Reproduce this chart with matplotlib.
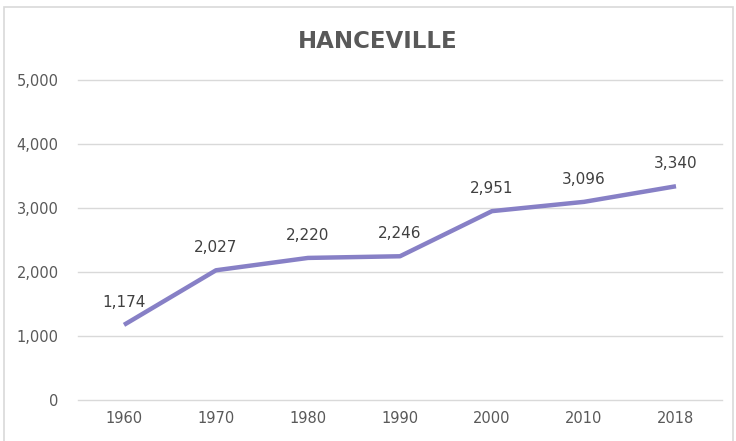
import matplotlib
matplotlib.use("Agg")
import matplotlib.pyplot as plt
from matplotlib.patches import Rectangle

years = ["1960", "1970", "1980", "1990", "2000", "2010", "2018"]
population = [1174, 2027, 2220, 2246, 2951, 3096, 3340]
y_ticks = [0, 1000, 2000, 3000, 4000, 5000]

W, H = 736, 441
fig = plt.figure(figsize=(W / 100, H / 100), dpi=100)
fig.patch.set_facecolor("white")

# light frame around the chart area
fig.patches.append(Rectangle((4 / W, -0.01), (733 - 4) / W, (H - 7) / H + 0.01,
                             transform=fig.transFigure, fill=False,
                             edgecolor="#d9d9d9", linewidth=1.2))

ax = fig.add_axes([78 / W, (H - 400) / H, 644 / W, 320 / H])
x = list(range(len(years)))
ax.plot(x, population, color="#8780c6", linewidth=3.2, solid_capstyle="butt",
        solid_joinstyle="round", zorder=3)

for xi, v in zip(x, population):
    ax.annotate(f"{v:,}", (xi, v), xytext=(0, 11), textcoords="offset points",
                ha="center", va="bottom", fontsize=11, color="#404040")

ax.set_xlim(-0.5, len(years) - 0.5)
ax.set_ylim(0, 5000)
ax.set_yticks(y_ticks)
ax.set_yticklabels([f"{t:,}" for t in y_ticks])
ax.set_xticks(x)
ax.set_xticklabels(years)
ax.grid(axis="y", color="#d9d9d9", linewidth=1)
for gl in ax.get_ygridlines():
    gl.set_clip_on(False)
ax.set_axisbelow(True)
for s in ax.spines.values():
    s.set_visible(False)
ax.tick_params(axis="both", length=0, labelsize=10.5, labelcolor="#595959")
ax.tick_params(axis="y", pad=14)
ax.tick_params(axis="x", pad=8)

fig.text(378 / W, 1 - 42 / H, "HANCEVILLE", ha="center", va="center",
         fontsize=16.5, fontweight="bold", color="#595959")

fig.savefig("out.png", dpi=100)
